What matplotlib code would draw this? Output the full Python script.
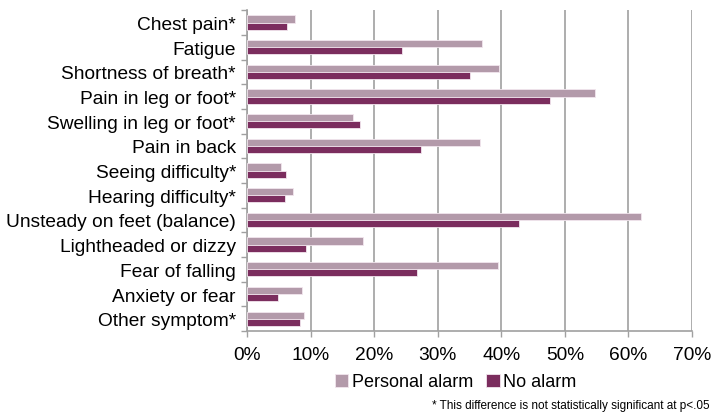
import numpy as np
import matplotlib.pyplot as plt
from matplotlib.ticker import FixedLocator, FuncFormatter

plt.rcParams['font.family'] = ['Liberation Sans', 'DejaVu Sans']

# data (percent)
symptoms = ['Chest pain*', 'Fatigue', 'Shortness of breath*', 'Pain in leg or foot*',
            'Swelling in leg or foot*', 'Pain in back', 'Seeing difficulty*',
            'Hearing difficulty*', 'Unsteady on feet (balance)', 'Lightheaded or dizzy',
            'Fear of falling', 'Anxiety or fear', 'Other symptom*']
personal_alarm = [7.6, 36.9, 39.7, 54.7, 16.6, 36.7, 5.4, 7.3, 62.0, 18.3, 39.4, 8.6, 9.0]
no_alarm = [6.3, 24.3, 35.0, 47.7, 17.8, 27.3, 6.1, 5.9, 42.8, 9.3, 26.8, 4.9, 8.3]

col_pa = '#b39aaa'
col_na = '#7b2d5e'
grey = '#a0a0a0'

fig = plt.figure(figsize=(7.12, 4.14), dpi=100)
ax = fig.add_axes([0.347, 0.198, 0.625, 0.775])

y = np.arange(len(symptoms))
h = 0.29
ax.barh(y - h / 2, personal_alarm, height=h, color=col_pa, edgecolor='#f2e6ee', linewidth=0.6,
        label='Personal alarm', zorder=3)
ax.barh(y + h / 2, no_alarm, height=h, color=col_na, edgecolor='#f2e6ee', linewidth=0.6,
        label='No alarm', zorder=3)

ax.set_xlim(0, 70)
ax.set_ylim(len(symptoms) - 0.5, -0.5)
ax.set_xticks(np.arange(0, 71, 10))
ax.xaxis.set_major_formatter(FuncFormatter(lambda v, p: '%d%%' % v))
ax.set_yticks(y)
ax.set_yticklabels(symptoms)
ax.yaxis.set_minor_locator(FixedLocator(np.arange(-0.5, len(symptoms), 1)))

ax.tick_params(axis='y', which='major', length=0, pad=8, labelsize=13.8, colors='black')
ax.tick_params(axis='y', which='minor', length=4, width=1, color=grey)
ax.tick_params(axis='x', which='major', length=4, width=1, color=grey, labelsize=13.8, pad=7)

ax.grid(axis='x', color=grey, linewidth=1.2, zorder=0)
for s in ['top', 'right']:
    ax.spines[s].set_visible(False)
for s in ['left', 'bottom']:
    ax.spines[s].set_color(grey)
    ax.spines[s].set_linewidth(1.2)

fig.legend(loc='center', bbox_to_anchor=(0.64, 0.075), ncol=2, frameon=False,
           fontsize=13, handlelength=0.75, handleheight=0.75, handletextpad=0.2,
           columnspacing=0.7)

# footnote: kept inside the figure
fig.text(0.996, 0.004, '* This difference is not statistically significant at p<.05',
         fontsize=8.5, ha='right', va='bottom')

fig.savefig('out.png', dpi=100)
